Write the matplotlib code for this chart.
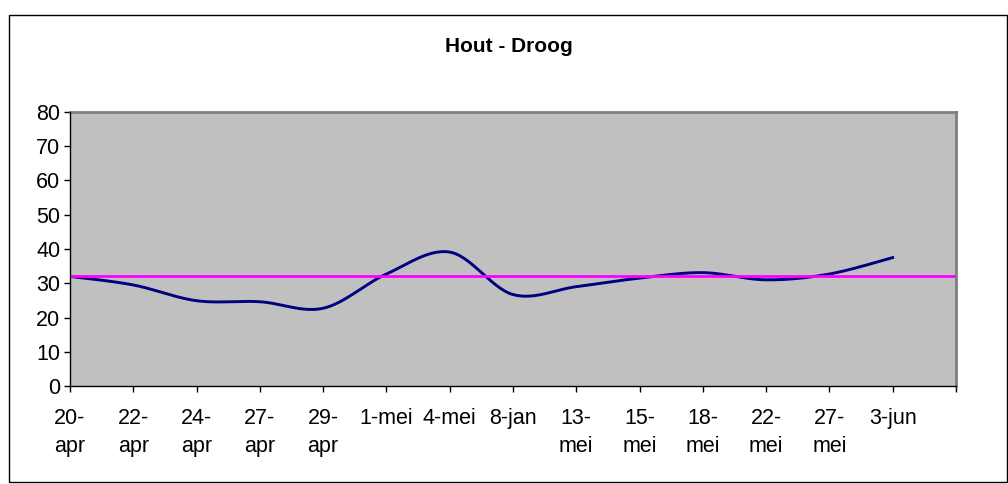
import numpy as np
import matplotlib
matplotlib.use('Agg')
import matplotlib.pyplot as plt
from matplotlib.patches import Rectangle

plt.rcParams['font.family'] = ['Liberation Sans', 'DejaVu Sans']

# meetwaarden per datum
datums = ['20-\napr', '22-\napr', '24-\napr', '27-\napr', '29-\napr', '1-mei', '4-mei',
          '8-jan', '13-\nmei', '15-\nmei', '18-\nmei', '22-\nmei', '27-\nmei', '3-jun']
waarden = [32.0, 29.5, 24.9, 24.6, 22.7, 32.7, 39.1, 26.7, 29.0, 31.5, 33.1, 31.0, 32.7, 37.5]
gemiddelde = 32.0


def smooth(xs, ys, n=30):
    # bezier smoothing zoals in excel (catmull-rom)
    xs = np.asarray(xs, float)
    ys = np.asarray(ys, float)
    px = np.concatenate([[xs[0]], xs, [xs[-1]]])
    py = np.concatenate([[ys[0]], ys, [ys[-1]]])
    out_x, out_y = [], []
    t = np.linspace(0, 1, n)
    for i in range(1, len(px) - 2):
        p0 = np.array([px[i], py[i]])
        p3 = np.array([px[i + 1], py[i + 1]])
        p1 = p0 + (np.array([px[i + 1], py[i + 1]]) - np.array([px[i - 1], py[i - 1]])) / 6
        p2 = p3 - (np.array([px[i + 2], py[i + 2]]) - np.array([px[i], py[i]])) / 6
        b = ((1 - t) ** 3)[:, None] * p0 + (3 * (1 - t) ** 2 * t)[:, None] * p1 \
            + (3 * (1 - t) * t ** 2)[:, None] * p2 + (t ** 3)[:, None] * p3
        out_x.extend(b[:, 0])
        out_y.extend(b[:, 1])
    return out_x, out_y


fig = plt.figure(figsize=(10.08, 4.84), dpi=100)
fig.patches.append(Rectangle((9 / 1008, 2 / 484), 998 / 1008, 467 / 484,
                             transform=fig.transFigure, fill=False,
                             edgecolor='black', linewidth=1))

ax = fig.add_axes([70 / 1008, (484 - 386) / 484, 886 / 1008, 274 / 484])
ax.set_facecolor('#C0C0C0')

x = np.arange(len(waarden))
sx, sy = smooth(x, waarden)
ax.plot(sx, sy, color='#000080', linewidth=2.1, zorder=3)
ax.axhline(gemiddelde, color='#FF00FF', linewidth=2.0, zorder=4)

ax.set_xlim(0, len(waarden))
ax.set_ylim(0, 80)
ax.set_yticks(range(0, 81, 10))
ax.set_xticks(np.arange(len(waarden) + 1))
ax.set_xticklabels(datums + [''])

ax.tick_params(axis='both', direction='out', length=4, width=1, colors='black',
               labelsize=15.5)
ax.tick_params(axis='y', pad=3)
ax.tick_params(axis='x', pad=12)
for lbl in ax.get_xticklabels():
    lbl.set_linespacing(1.45)

for s in ['top', 'right']:
    ax.spines[s].set_color('#808080')
    ax.spines[s].set_linewidth(2)
for s in ['left', 'bottom']:
    ax.spines[s].set_color('black')
    ax.spines[s].set_linewidth(1)
    ax.spines[s].set_zorder(5)

fig.text(509 / 1008, 1 - 46 / 484, 'Hout - Droog', ha='center', va='center',
         fontsize=15, fontweight='bold')

fig.savefig('out.png', dpi=100)
